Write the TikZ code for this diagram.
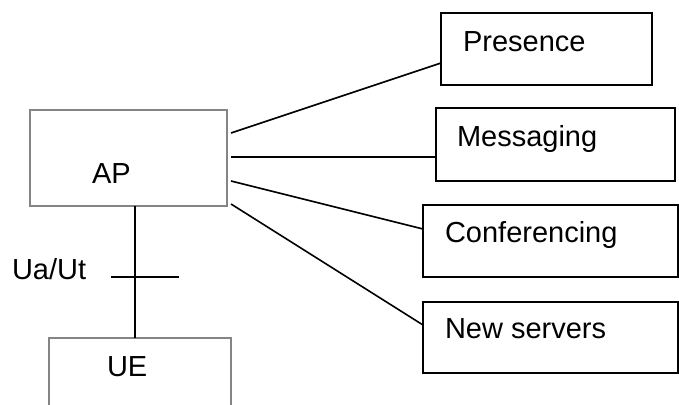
\documentclass[tikz,border=0pt]{standalone}
\usepackage{fontspec}
\setmainfont{Liberation Sans}
\usetikzlibrary{calc}
\begin{document}
\begin{tikzpicture}[x=0.5pt,y=-0.5pt,
  every node/.style={font=\fontsize{14.5}{17}\selectfont, inner sep=0pt, outer sep=0pt},
  srvbox/.style={draw=black, line width=0.9pt, rectangle, anchor=north west},
  grbox/.style={draw=black!48, line width=0.9pt, rectangle, anchor=north west},
  lbl/.style={anchor=base west},
  conn/.style={draw=black, line width=0.8pt}]
\useasboundingbox (0,0) rectangle (679,405);
\clip (0,0) rectangle (679,405);
% boxes
\node[grbox, minimum width=98.5pt, minimum height=48pt] (AP) at (30,110) {};
\node[grbox, minimum width=91pt, minimum height=40pt] (UE) at (49,338) {};
\node[srvbox, minimum width=105.5pt, minimum height=36pt] (PR) at (441,13) {};
\node[srvbox, minimum width=119.5pt, minimum height=36.5pt] (MS) at (436,108) {};
\node[srvbox, minimum width=127.5pt, minimum height=36pt] (CF) at (423,205) {};
\node[srvbox, minimum width=127.5pt, minimum height=35.5pt] (NS) at (423,302) {};
% labels
\node[lbl] (APl) at (92,184) {AP};
\node[lbl] (UEl) at (107,376) {UE};
\node[lbl] (PRl) at (463,52) {Presence};
\node[lbl] (MSl) at (457,147) {Messaging};
\node[lbl] (CFl) at (445,243) {Conferencing};
\node[lbl] (NSl) at (445,338) {New servers};
\node[lbl] (UAl) at (12,280) {Ua/Ut};
% connectors
\draw[conn] ($(AP.north east)+(4,23)$) -- ($(PR.north west)+(0,50)$);
\draw[conn] ($(AP.north east)+(4,47)$) -- ($(MS.north west)+(0,49)$);
\draw[conn] ($(AP.north east)+(4,71)$) -- ($(CF.north west)+(0,24)$);
\draw[conn] ($(AP.north east)+(4,94)$) -- ($(NS.north west)+(0,23)$);
\draw[conn] ($(AP.south west)+(105,0)$) -- ($(UE.north west)+(86,0)$);
\coordinate (cx1) at (111,277);
\coordinate (cx2) at (179,277);
\draw[conn] (cx1) -- (cx2);
\end{tikzpicture}
\end{document}
